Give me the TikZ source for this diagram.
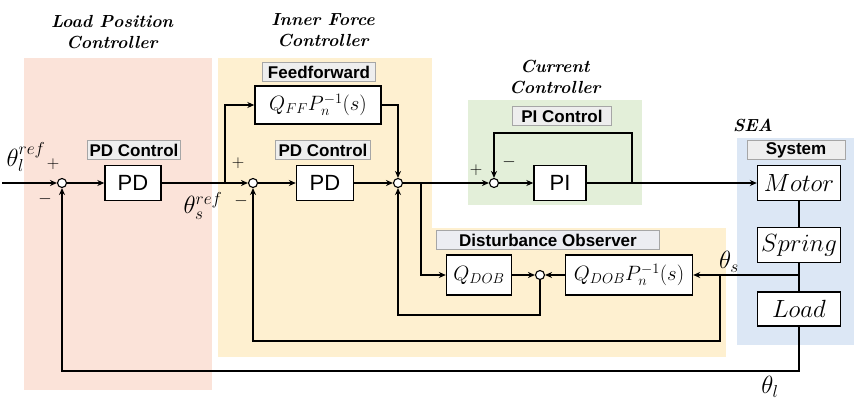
\documentclass[tikz,border=0pt]{standalone}
\usepackage{fontspec}
\setsansfont{Liberation Sans}
\usetikzlibrary{arrows.meta}
\definecolor{cpink}{HTML}{FBE3D9}
\definecolor{cyel}{HTML}{FEF0D0}
\definecolor{cgreen}{HTML}{E3EFD9}
\definecolor{cblue}{HTML}{DCE7F5}
\definecolor{clbl}{HTML}{EEEEEE}
\definecolor{clbl2}{HTML}{ECEDF2}
\begin{document}
\begin{tikzpicture}[x=1pt,y=-1pt,
  line width=1.4pt,
  arr/.style={-{Stealth[length=7pt,width=6pt]}},
  blk/.style={draw, fill=white, line width=1.4pt, inner sep=0pt},
  sumj/.style={circle, draw, fill=white, line width=1.1pt, minimum size=9pt, inner sep=0pt},
  lbl/.style={draw=gray!70, fill=clbl, line width=0.8pt, inner sep=0pt, minimum height=19pt,
    font=\sffamily\bfseries\fontsize{17}{19}\selectfont},
  ttl/.style={align=center, font=\bfseries\itshape\fontsize{17.5}{21}\selectfont},
  sgn/.style={inner sep=0pt, font=\fontsize{19}{22}\selectfont},
  sans/.style={font=\sffamily\fontsize{22}{24}\selectfont},
  mth/.style={font=\fontsize{20}{22}\selectfont},
  big/.style={font=\fontsize{24}{26}\selectfont},
  thl/.style={inner sep=0pt, font=\fontsize{24}{26}\selectfont}]
\useasboundingbox (0,0) rectangle (854,401);
% background regions
\fill[cpink] (24,58) rectangle (212,390);
\fill[cyel] (218,58) rectangle (432,357);
\fill[cyel] (431,228) rectangle (726,357);
\fill[cgreen] (468,100) rectangle (642,205);
\fill[cblue] (737,138) rectangle (854,345);
% titles
\node[ttl] (t1) at (112,32) {Load Position\\Controller};
\node[ttl] (t2) at (323,30) {Inner Force\\Controller};
\node[ttl] (t3) at (555,77) {Current\\Controller};
\node[ttl] (t4) at (753,125) {SEA};
% label boxes
\node[lbl, minimum width=93pt] (l1) at (134,150) {PD Control};
\node[lbl, minimum width=95pt] (l2) at (323,150) {PD Control};
\node[lbl, minimum width=113pt] (l3) at (319,72) {Feedforward};
\node[lbl, minimum width=99pt] (l4) at (562,116) {PI Control};
\node[lbl, minimum width=98pt] (l5) at (796,150) {System};
\node[lbl, fill=clbl2, minimum width=223pt] (l6) at (548,240) {Disturbance Observer};
% blocks
\node[blk, sans, minimum width=56pt, minimum height=35pt] (pd1) at (133,183) {PD};
\node[blk, mth, minimum width=126pt, minimum height=38pt] (ff) at (318,105) {$Q_{FF}P_n^{-1}(s)$};
\node[blk, sans, minimum width=57pt, minimum height=35pt] (pd2) at (325,183) {PD};
\node[blk, sans, minimum width=52pt, minimum height=35pt] (pi) at (560,183) {PI};
\node[blk, big, minimum width=83pt, minimum height=35pt] (motor) at (799,183) {$Motor$};
\node[blk, big, minimum width=83pt, minimum height=35pt] (spring) at (799,245) {$Spring$};
\node[blk, big, minimum width=83pt, minimum height=34pt] (load) at (799,309) {$Load$};
\node[blk, mth, minimum width=65pt, minimum height=40pt] (qdob) at (479,275) {$Q_{DOB}$};
\node[blk, mth, minimum width=127pt, minimum height=40pt] (qdobp) at (629,275) {$Q_{DOB}P_n^{-1}(s)$};
% summing junctions
\node[sumj] (s1) at (62,183) {};
\node[sumj] (s2) at (253,183) {};
\node[sumj] (s3) at (398,183) {};
\node[sumj] (s4) at (494,183) {};
\node[sumj] (s5) at (540,275) {};
% coordinates
\coordinate (in) at (2,183);
\coordinate (br1) at (225,183);
\coordinate (br2) at (421,183);
\coordinate (br3) at (632,183);
\coordinate (pitop) at (632,133);
\coordinate (js) at (799,275);
\coordinate (br4) at (720,275);
\coordinate (c4) at (720,341);
\coordinate (c5) at (540,315);
\coordinate (c6) at (799,371);
% connectors
\draw[arr] (in) -- (s1);
\draw[arr] (s1) -- (pd1);
\draw[arr] (pd1) -- (s2);
\draw[arr] (br1) |- (ff);
\draw[arr] (s2) -- (pd2);
\draw[arr] (pd2) -- (s3);
\draw[arr] (ff) -| (s3);
\draw[arr] (s3) -- (s4);
\draw[arr] (br2) |- (qdob);
\draw[arr] (s4) -- (pi);
\draw[arr] (pi) -- (motor);
\draw[arr] (br3) -- (pitop) -| (s4);
\draw (motor) -- (spring);
\draw (spring) -- (load);
\draw[arr] (js) -- (qdobp);
\draw[arr] (br4) -- (c4) -| (s2);
\draw[arr] (qdobp) -- (s5);
\draw[arr] (qdob) -- (s5);
\draw[arr] (s5) -- (c5) -| (s3);
\draw[arr] (load) -- (c6) -| (s1);
% signs and signal labels
\node[sgn] (p1) at (53,164) {$+$};
\node[sgn] (m1) at (45,199) {$-$};
\node[sgn] (p2) at (238,163) {$+$};
\node[sgn] (m2) at (241,201) {$-$};
\node[thl] (ths) at (203,206) {$\theta_s^{ref}$};
\node[sgn] (p4) at (476,170) {$+$};
\node[sgn] (m4) at (509,162) {$-$};
\node[thl] (thl) at (26,157) {$\theta_l^{ref}$};
\node[thl] (thsb) at (729,262) {$\theta_s$};
\node[thl] (thlb) at (770,387) {$\theta_l$};
\end{tikzpicture}
\end{document}
